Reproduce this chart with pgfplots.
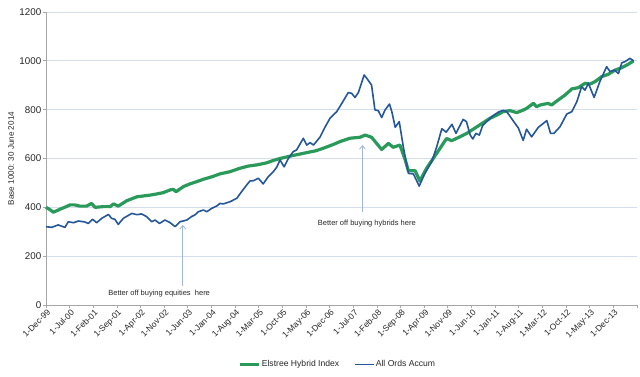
\documentclass[border=0pt]{standalone}
\usepackage{pgfplots}
\pgfplotsset{compat=1.18}
\usepackage{fontspec}
\setmainfont{Liberation Sans}
\usetikzlibrary{arrows.meta}
\definecolor{hgreen}{HTML}{2A9A5A}
\definecolor{oblue}{HTML}{23579A}
\definecolor{gridc}{HTML}{D5DEEE}
\definecolor{axc}{HTML}{A6A6A6}
\definecolor{arrc}{HTML}{9FB6D6}
\definecolor{txt}{HTML}{262626}
\begin{document}
\begin{tikzpicture}
\path[use as bounding box] (-46pt,-71pt) rectangle (594pt,305pt);
\begin{axis}[
  at={(0pt,0pt)}, anchor=south west,
  width=591pt, height=293pt, scale only axis,
  xmin=0, xmax=175, ymin=0, ymax=1200,
  axis lines*=left,
  axis line style={axc, line width=0.8pt},
  ytick={0,200,...,1200},
  xtick={0,7,...,175},
  xticklabels={1-Dec-99,1-Jul-00,1-Feb-01,1-Sep-01,1-Apr-02,1-Nov-02,1-Jun-03,1-Jan-04,1-Aug-04,1-Mar-05,1-Oct-05,1-May-06,1-Dec-06,1-Jul-07,1-Feb-08,1-Sep-08,1-Apr-09,1-Nov-09,1-Jun-10,1-Jan-11,1-Aug-11,1-Mar-12,1-Oct-12,1-May-13,1-Dec-13,},
  x tick label style={rotate=45, anchor=north east, inner sep=1pt, xshift=1pt, font=\fontsize{8.5}{10}\selectfont},
  y tick label style={font=\fontsize{9.8}{11}\selectfont, inner sep=1.5pt},
  ticklabel style={text=txt},
  /pgf/number format/assume math mode=true,
  /pgf/number format/1000 sep={},
  tick align=outside, major tick length=3pt,
  tick style={axc, line width=0.8pt},
  ymajorgrids, grid style={gridc, line width=0.8pt},
  legend columns=2,
  legend style={at={(0.493,-0.2024)}, anchor=center, draw=none, fill=none,
    font=\fontsize{8.6}{10}\selectfont, text=txt,
    /tikz/every even column/.append style={column sep=14pt},
    nodes={inner sep=1pt}},
  legend image code/.code={\draw[#1] (0pt,0pt) -- (19pt,0pt);},
  clip=false,
]
\addplot[hgreen, line width=3.2pt, line join=round] coordinates {
(0,400)(1,392)(2.2,380)(4.1,392)(5.5,400)(7.1,410)(8.5,410)(10,405)(12,405)(13.5,416)(14.5,400)(17,403)(19,403)(20,414)(21.4,405)(23.9,427)(26.9,443)(28.5,446)(30.8,450)(32.5,454)(34.7,460)(36.7,471)(37.7,474)(38.5,464)(40.7,485)(42.6,496)(44.6,505)(46.6,515)(49.1,525)(51.5,537)(54.5,546)(57.4,560)(59.9,569)(62.5,574)(65.3,582)(67.3,592)(69.3,600)(73,612)(77.2,624)(80,632)(82.1,642)(85,657)(87,669)(90,683)(93,687)(94.5,696)(96.4,687)(98,660)(99.4,637)(101.4,662)(102.8,646)(104.8,655)(106.3,597)(107.3,550)(109.3,550)(110.7,508)(112.7,560)(114.7,601)(116.7,642)(118.6,682)(120.1,673)(122.6,689)(124.6,703)(126.5,720)(129.5,747)(131.5,765)(133.5,778)(135.4,792)(137.4,796)(139.4,788)(140.9,796)(142.3,805)(144.3,826)(145.3,812)(146.3,819)(148.7,826)(149.7,819)(151.7,840)(153.7,860)(155.7,885)(157.6,890)(159.6,908)(161.1,905)(162.6,915)(164.5,935)(166.5,945)(168.5,962)(170.5,972)(172.4,986)(174,1000)
};
\addlegendentry{Elstree Hybrid Index}
\addplot[oblue, line width=1.6pt, line join=round] coordinates {
(0,321)(1.7,318)(3.6,328)(5.6,318)(6.6,341)(8.1,337)(9.6,344)(11.5,340)(12.5,334)(13.8,351)(15,337)(16.5,355)(18.5,371)(19.4,355)(20.4,351)(21.4,330)(22.9,355)(25.4,375)(26.9,370)(28.3,373)(29.8,362)(31.3,341)(32.3,348)(33.6,334)(35.2,348)(36.7,338)(38.2,321)(39.7,341)(41.7,348)(43.1,362)(44.1,369)(45.1,382)(46.6,389)(47.6,382)(49.1,396)(50.5,405)(51.5,416)(52.5,414)(54.5,423)(56.5,437)(57.9,464)(59.4,491)(60.4,508)(61.4,509)(62.9,519)(64.3,496)(65.8,525)(67.3,546)(68.3,564)(69.3,594)(70.5,566)(71.8,601)(73.2,628)(74.2,635)(76.2,683)(77.2,655)(78.2,665)(79.2,655)(81.1,687)(82.6,728)(84.1,765)(86.1,792)(87.6,826)(89.5,870)(90.5,867)(91.5,850)(92.5,870)(94.2,942)(95,928)(96.4,901)(97.4,799)(98.4,796)(99.4,768)(100.4,799)(101.7,823)(102.4,792)(103.4,728)(104.6,751)(105.8,648)(107.3,539)(108.8,537)(110.5,487)(112.2,539)(114.2,587)(115.7,648)(117.2,722)(118.5,708)(120.2,740)(121.4,703)(123.5,760)(124.5,751)(125.6,696)(126.4,680)(127.3,703)(128.3,696)(129.3,735)(130.5,751)(132.3,775)(134.2,792)(135.4,797)(136.4,792)(137.9,763)(139.9,724)(141.3,674)(142.3,720)(143.8,689)(145.8,728)(148.3,755)(149.4,703)(150.4,703)(152.2,730)(154.2,782)(155.7,792)(157.2,833)(158.6,894)(159.6,880)(160.6,908)(162.3,850)(164,915)(166,976)(167,956)(168.3,962)(169.5,948)(170.5,992)(171.5,997)(172.9,1010)(174,1000)
};
\addlegendentry{All Ords Accum}
\draw[arrc, line width=0.8pt, -{Straight Barb[length=3.5pt,width=6pt]}] (axis cs:40.5,78) -- (axis cs:40.5,328);
\node[font=\fontsize{7.5}{9}\selectfont, text=txt] at (axis cs:33.5,48) {Better off buying equities~ here};
\draw[arrc, line width=0.8pt, -{Straight Barb[length=3.5pt,width=6pt]}] (axis cs:93.7,382) -- (axis cs:93.7,655);
\node[font=\fontsize{7.5}{9}\selectfont, text=txt] at (axis cs:95,335) {Better off buying hybrids here};
\end{axis}
\node[rotate=90, font=\fontsize{8.1}{10}\selectfont, text=txt] at (-35pt,146.5pt) {Base 1000: 30 June 2014};
\end{tikzpicture}
\end{document}
